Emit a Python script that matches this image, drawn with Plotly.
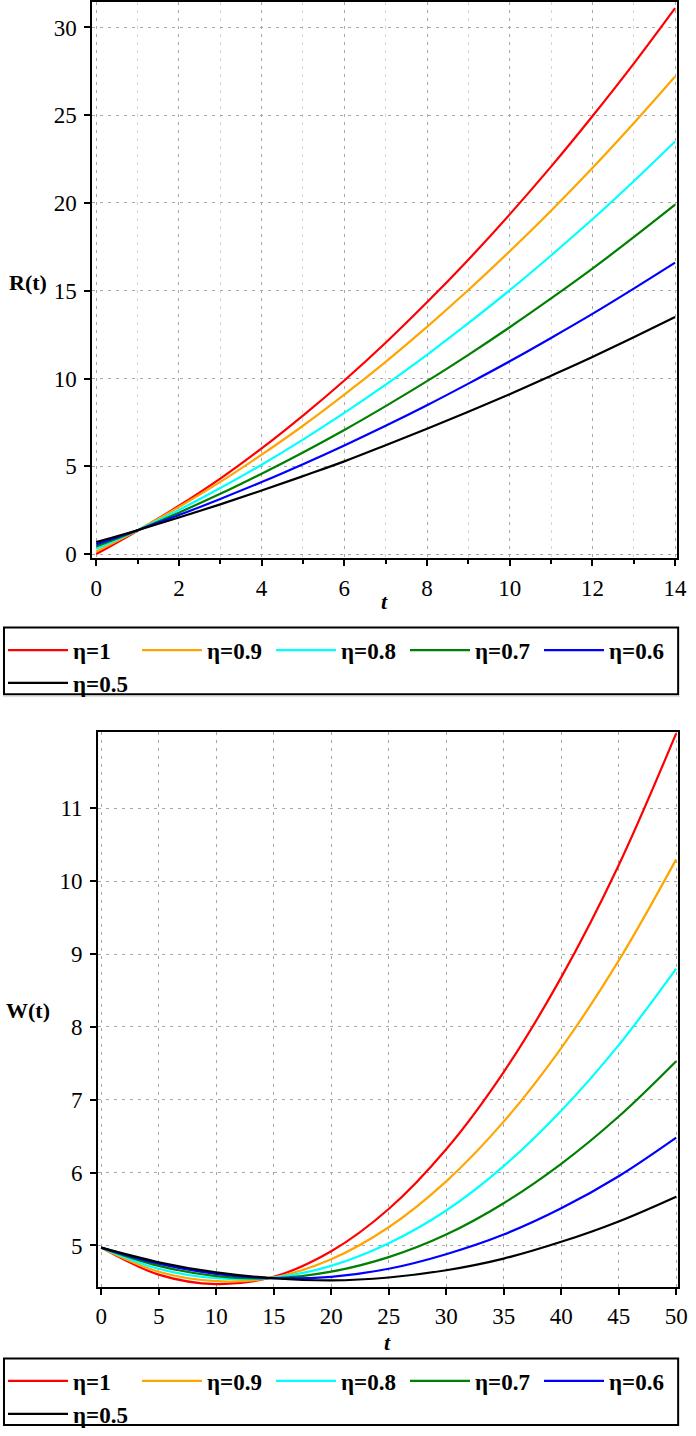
import plotly.graph_objects as go

W_FIG, H_FIG = 696, 1436

# ---------------- data ----------------
names = ["η=1", "η=0.9", "η=0.8", "η=0.7", "η=0.6", "η=0.5"]
colors = ["#ff0000", "#ffa500", "#00ffff", "#008000", "#0000ff", "#000000"]

t_R = [0, 1, 2, 3, 4, 5, 6, 7, 8, 9, 10, 11, 12, 13, 14]
R_eta10 = [0.00, 1.33, 2.75, 4.30, 6.02, 7.89, 9.89, 12.04, 14.34, 16.77, 19.35, 22.07, 24.94, 27.94, 31.10]
R_eta09 = [0.15, 1.36, 2.68, 4.11, 5.66, 7.31, 9.08, 10.95, 12.94, 15.04, 17.25, 19.56, 21.99, 24.54, 27.20]
R_eta08 = [0.30, 1.36, 2.51, 3.76, 5.09, 6.52, 8.04, 9.65, 11.35, 13.15, 15.03, 17.01, 19.07, 21.24, 23.50]
R_eta07 = [0.43, 1.36, 2.36, 3.43, 4.58, 5.79, 7.07, 8.43, 9.85, 11.35, 12.92, 14.56, 16.26, 18.05, 19.90]
R_eta06 = [0.55, 1.36, 2.22, 3.14, 4.10, 5.12, 6.19, 7.31, 8.48, 9.71, 10.98, 12.31, 13.68, 15.12, 16.60]
R_eta05 = [0.68, 1.36, 2.08, 2.83, 3.62, 4.44, 5.28, 6.20, 7.14, 8.11, 9.11, 10.16, 11.23, 12.35, 13.50]

t_W = [0, 5, 10, 15, 20, 25, 30, 35, 40, 45, 50]
W_eta10 = [4.97, 4.60, 4.47, 4.57, 4.92, 5.50, 6.32, 7.38, 8.68, 10.22, 12.03]
W_eta09 = [4.97, 4.64, 4.51, 4.56, 4.81, 5.25, 5.88, 6.70, 7.71, 8.91, 10.30]
W_eta08 = [4.97, 4.68, 4.55, 4.56, 4.72, 5.03, 5.48, 6.09, 6.85, 7.75, 8.80]
W_eta07 = [4.97, 4.72, 4.58, 4.55, 4.64, 4.84, 5.15, 5.58, 6.12, 6.77, 7.53]
W_eta06 = [4.97, 4.75, 4.61, 4.55, 4.57, 4.68, 4.88, 5.15, 5.51, 5.95, 6.48]
W_eta05 = [4.97, 4.77, 4.63, 4.55, 4.52, 4.56, 4.66, 4.82, 5.05, 5.33, 5.67]

R_series = [R_eta10, R_eta09, R_eta08, R_eta07, R_eta06, R_eta05]
W_series = [W_eta10, W_eta09, W_eta08, W_eta07, W_eta06, W_eta05]

R_xticks = [0, 2, 4, 6, 8, 10, 12, 14]
R_yticks = [0, 5, 10, 15, 20, 25, 30]
W_xticks = [0, 5, 10, 15, 20, 25, 30, 35, 40, 45, 50]
W_yticks = [5, 6, 7, 8, 9, 10, 11]


def px_x(p):
    return p / W_FIG


def px_y(p):
    return 1 - p / H_FIG


SERIF = "Liberation Serif, Times New Roman, serif"

fig = go.Figure()
for nm, col, ys in zip(names, colors, R_series):
    fig.add_trace(go.Scatter(x=t_R, y=ys, mode="lines", name=nm,
                             line=dict(color=col, width=2.2, shape="spline", smoothing=1.0),
                             xaxis="x", yaxis="y", legend="legend"))
for nm, col, ys in zip(names, colors, W_series):
    fig.add_trace(go.Scatter(x=t_W, y=ys, mode="lines", name=nm,
                             line=dict(color=col, width=2.2, shape="spline", smoothing=1.0),
                             xaxis="x2", yaxis="y2", legend="legend2"))

grid_major = "#a8a8a8"
grid_minor = "#d6d6d6"
tickfont = dict(family=SERIF, size=23, color="black")

common = dict(showline=True, linecolor="black", linewidth=2, mirror=True,
              ticks="outside", ticklen=6, tickwidth=1.5, tickcolor="black",
              showgrid=True, gridcolor=grid_major, griddash="3px,5px", gridwidth=1,
              zeroline=False, tickfont=tickfont, ticklabeloverflow="allow")

legend_common = dict(xanchor="left", yanchor="top", orientation="h",
                     entrywidth=59, entrywidthmode="pixels", itemwidth=60,
                     bgcolor="rgba(0,0,0,0)", borderwidth=0, tracegroupgap=0,
                     font=dict(family=SERIF, size=23, color="black", weight="bold"))

ann_font = dict(family=SERIF, size=22, color="black")


def label(text, x, y):
    return dict(text=text, x=px_x(x), y=px_y(y), xref="paper", yref="paper",
                xanchor="center", yanchor="middle", showarrow=False, font=ann_font)


fig.update_layout(
    width=W_FIG, height=H_FIG,
    margin=dict(l=0, r=0, t=0, b=0),
    paper_bgcolor="white", plot_bgcolor="white",
    xaxis=dict(domain=[px_x(91), px_x(687)], anchor="y", range=[-0.095, 14.05],
               tickvals=R_xticks, ticklabelstandoff=2,
               minor=dict(dtick=1, ticks="outside", ticklen=4, tickcolor="black",
                          showgrid=True, gridcolor=grid_minor, griddash="3px,5px"),
               **common),
    yaxis=dict(domain=[px_y(561), px_y(1)], anchor="x", range=[-0.23, 31.45],
               tickvals=R_yticks, ticklabelstandoff=3, **common),
    xaxis2=dict(domain=[px_x(97), px_x(688)], anchor="y2", range=[-0.26, 50.17],
                tickvals=W_xticks, ticklabelstandoff=1, **common),
    yaxis2=dict(domain=[px_y(1295), px_y(736)], anchor="x2", range=[4.43, 12.05],
                tickvals=W_yticks, ticklabelstandoff=3, **common),
    legend=dict(x=px_x(0), y=px_y(632), **legend_common),
    legend2=dict(x=px_x(0), y=px_y(1368), **legend_common),
    shapes=[
        dict(type="rect", xref="paper", yref="paper", x0=px_x(1), x1=px_x(688),
             y0=px_y(698), y1=px_y(631), line=dict(color="black", width=2)),
        dict(type="rect", xref="paper", yref="paper", x0=px_x(1), x1=px_x(688),
             y0=px_y(1434), y1=px_y(1367), line=dict(color="black", width=2)),
        dict(type="line", xref="paper", yref="paper", x0=0, x1=px_x(690),
             y0=px_y(700.5), y1=px_y(700.5), line=dict(color="#dcdcdc", width=1)),
    ],
    annotations=[
        label("<b>R(t)</b>", 25, 283),
        label("<b><i>t</i></b>", 389, 605),
        label("<b>W(t)</b>", 25, 1017),
        label("<b><i>t</i></b>", 392, 1351),
    ],
)

fig.write_html("out.html", config={"displayModeBar": False},
               post_script="document.body.style.margin='0';")
